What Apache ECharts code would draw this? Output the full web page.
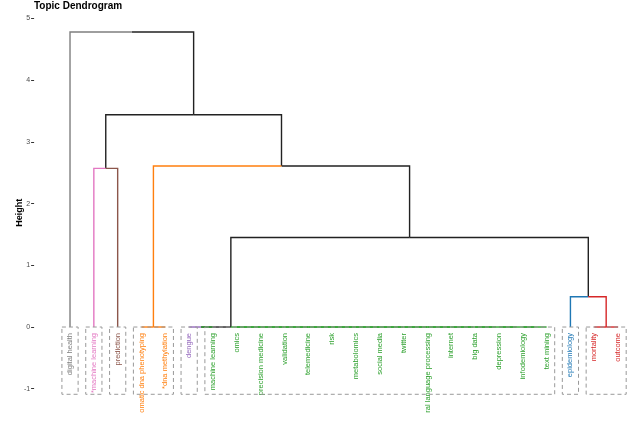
<!DOCTYPE html>
<html>
<head>
<meta charset="utf-8">
<script src="https://cdn.jsdelivr.net/npm/echarts@6/dist/echarts.min.js"></script>
<style>
html,body{margin:0;padding:0;background:#fff;}
#chart{width:640px;height:413px;}
</style>
</head>
<body>
<div id="chart"></div>
<script>
// ---------- data ----------
const chartTitle = 'Topic Dendrogram';
const yAxisName = 'Height';
const leafLabels = [
  'digital health', '*machine learning', 'prediction',
  'somatic dna phenotyping', '*dna methylation',
  'dengue', 'machine learning', 'omics', 'precision medicine', 'validation',
  'telemedicine', 'risk', 'metabolomics', 'social media', 'twitter',
  'natural language processing', 'internet', 'big data', 'depression',
  'infodemiology', 'text mining', 'epidemiology', 'mortality', 'outcome'
];
// cluster of every leaf (k = 8)
const leafCluster = [0, 1, 2, 3, 3, 4, 5, 5, 5, 5, 5, 5, 5, 5, 5, 5, 5, 5, 5, 5, 5, 6, 7, 7];
const clusterColors = ['#7f7f7f', '#e377c2', '#8c564b', '#ff7f0e', '#9467bd', '#2ca02c', '#1f77b4', '#d62728'];
// hclust-style merge table: negative = leaf (1-based), positive = earlier merge row (1-based)
const mergeLeft   = [-23, -20, -19, -18, -17, -16, -15, -14, -13, -12, -11, -10, -9, -8, -6, 15, -4, -22, 16, -2, 17, 20, -1];
const mergeRight  = [-24, -21,   2,   3,   4,   5,   6,   7,   8,   9,  10,  11, 12, 13, -7, 14, -5,   1, 18, -3, 19, 21, 22];
const mergeHeight = [  0,   0,   0,   0,   0,   0,   0,   0,   0,   0,   0,   0,  0,  0,  0,  0,  0, 0.49, 1.45, 2.57, 2.61, 3.44, 4.78];
const yTicks = [-1, 0, 1, 2, 3, 4, 5];
const rectBottom = -1.09;

// ---------- build tree segments ----------
const nLeaf = leafLabels.length;
const nodeX = [], nodeH = [], nodeCl = [];
function ref(r) {
  if (r < 0) { const i = -r - 1; return { x: i, h: 0, cl: leafCluster[i] }; }
  const j = r - 1; return { x: nodeX[j], h: nodeH[j], cl: nodeCl[j] };
}
const segs = [];
mergeLeft.forEach((l, j) => {
  const a = ref(l), b = ref(mergeRight[j]);
  const h = mergeHeight[j];
  const x = (a.x + b.x) / 2;
  nodeX[j] = x; nodeH[j] = h; nodeCl[j] = (a.cl === b.cl) ? a.cl : -1;
  [a, b].forEach(c => segs.push([x, h, c.x, c.h, c.cl]));
});
segs.sort((p, q) => (p[4] < 0 ? 0 : 1) - (q[4] < 0 ? 0 : 1));

// cluster boxes from consecutive runs of leafCluster
const boxes = [];
leafCluster.forEach((c, i) => {
  if (i === 0 || c !== leafCluster[i - 1]) boxes.push([i, i]);
  else boxes[boxes.length - 1][1] = i;
});
const boxData = boxes.map(b => [b[0] - 0.34, b[1] + 0.34]);

// ---------- chart ----------
const yMin = -1.45, yMax = 5.15;
const gLeft = 58.1, gWidth = 571.9, gTop = 9.2, gHeight = 407.3;
const zeroPx = gTop + gHeight * (yMax - 0) / (yMax - yMin);

const chart = echarts.init(document.getElementById('chart'), null, { renderer: 'canvas' });
chart.setOption({
  animation: false,
  textStyle: { fontFamily: 'Liberation Sans, Arial, sans-serif' },
  title: {
    text: chartTitle, left: 34, top: 1, padding: 0,
    textStyle: { fontSize: 10, fontWeight: 'bold', color: '#000' }
  },
  grid: [
    { left: gLeft, top: gTop, width: gWidth, height: gHeight, containLabel: false, outerBoundsMode: 'none' },
    { left: gLeft, top: gTop, width: gWidth, height: zeroPx - gTop, containLabel: false, outerBoundsMode: 'none' }
  ],
  xAxis: [
    {
      gridIndex: 0, type: 'value', min: -0.5, max: nLeaf - 0.5, show: false,
      axisLine: { onZero: false }, splitLine: { show: false }
    },
    {
      gridIndex: 1, type: 'category', data: leafLabels, position: 'bottom', boundaryGap: true,
      axisLine: { show: false, onZero: false },
      axisTick: { show: false },
      splitLine: { show: false },
      axisLabel: {
        interval: 0, rotate: 90, fontSize: 7.5, margin: 6,
        color: (v, i) => clusterColors[leafCluster[i]]
      }
    }
  ],
  yAxis: [
    {
      gridIndex: 0, type: 'value', min: yMin, max: yMax, position: 'left', offset: 24,
      axisLine: { show: false, onZero: false },
      axisTick: { show: true, length: 3, lineStyle: { color: '#333', width: 1 }, customValues: yTicks },
      axisLabel: { customValues: yTicks, fontSize: 7, color: '#4d4d4d', margin: 4 },
      splitLine: { show: false },
      name: yAxisName, nameLocation: 'middle', nameGap: 10, nameMoveOverlap: false,
      nameTextStyle: { fontSize: 9, fontWeight: 'bold', color: '#000' }
    },
    {
      gridIndex: 1, type: 'value', min: 0, max: yMax, show: false,
      axisLine: { onZero: false }, splitLine: { show: false }
    }
  ],
  series: [
    {
      type: 'custom', xAxisIndex: 0, yAxisIndex: 0, silent: true, z: 2,
      data: segs, encode: { x: [0, 2], y: [1, 3] },
      renderItem: (params, api) => {
        const p0 = api.coord([api.value(0), api.value(1)]);
        const p1 = api.coord([api.value(2), api.value(1)]);
        const p2 = api.coord([api.value(2), api.value(3)]);
        const c = api.value(4);
        return {
          type: 'polyline',
          shape: { points: [p0, p1, p2] },
          style: { stroke: c < 0 ? '#222' : clusterColors[c], lineWidth: 1.4, fill: null }
        };
      }
    },
    {
      type: 'custom', xAxisIndex: 0, yAxisIndex: 0, silent: true, z: 3,
      data: boxData, encode: { x: [0, 1] },
      renderItem: (params, api) => {
        const a = api.coord([api.value(0), 0]);
        const b = api.coord([api.value(1), rectBottom]);
        return {
          type: 'rect',
          shape: { x: a[0], y: a[1], width: b[0] - a[0], height: b[1] - a[1] },
          style: { stroke: '#999', lineWidth: 1, lineDash: [4, 3], fill: null }
        };
      }
    }
  ]
});
</script>
</body>
</html>
